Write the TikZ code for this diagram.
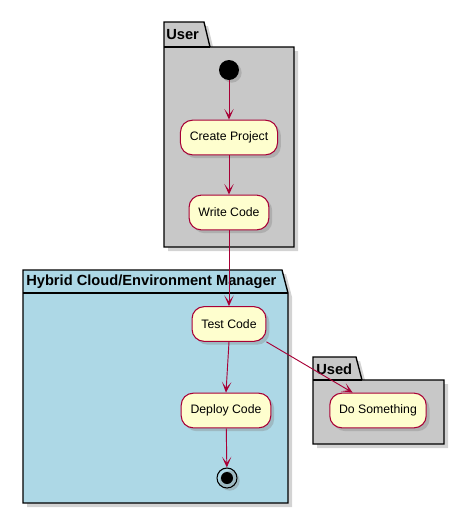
\documentclass[tikz,border=0pt]{standalone}
\usepackage{fontspec}
\setmainfont{Liberation Sans}
\usetikzlibrary{arrows.meta,shadows,positioning}
\definecolor{umlred}{HTML}{A80036}
\definecolor{umlfill}{HTML}{FEFECE}
\definecolor{pkggray}{HTML}{C8C8C8}
\definecolor{pkgblue}{HTML}{ADD8E6}
\tikzset{act/.style={draw=umlred,fill=umlfill,rounded corners=9pt,line width=0.8pt,
    minimum height=26pt,inner xsep=7pt,font=\fontsize{9.2}{11}\selectfont,
    drop shadow={shadow xshift=2.5pt,shadow yshift=-2.5pt,opacity=0.35}},
  pkg/.style={draw=black,line width=1pt,
    drop shadow={shadow xshift=3pt,shadow yshift=-3pt,opacity=0.35}},
  pkgname/.style={anchor=west,inner sep=0pt,font=\fontsize{11}{13}\bfseries},
  arr/.style={-{Stealth[length=8pt,width=7pt,inset=4.5pt]},draw=umlred,line width=0.7pt}}
\begin{document}
\begin{tikzpicture}[x=0.75pt,y=-0.75pt]
\useasboundingbox (0,0) rectangle (465,515);
% packages
\draw[pkg,fill=pkggray] (164,22) -- (204,22) -- (210,47) -- (294,47) -- (294,247) -- (164,247) -- cycle;
\draw[line width=1pt] (164,47) -- (210,47);
\node[pkgname] (user) at (166,35) {User};
\draw[pkg,fill=pkgblue] (23,270) -- (282,270) -- (288,293) -- (288,503) -- (23,503) -- cycle;
\draw[line width=1pt] (23,293) -- (288,293);
\node[pkgname] (hybrid) at (26,282) {Hybrid Cloud/Environment Manager};
\draw[pkg,fill=pkggray] (313,357) -- (356,357) -- (362,380) -- (444,380) -- (444,444) -- (313,444) -- cycle;
\draw[line width=1pt] (313,380) -- (362,380);
\node[pkgname] (used) at (316,369) {Used};
% activities
\node[circle,fill=black,minimum size=15pt,inner sep=0pt,
  drop shadow={shadow xshift=2pt,shadow yshift=-2pt,opacity=0.35}] (start) at (229,70) {};
\node[act] (create) at (229,137.5) {Create Project};
\node[act] (write) at (229,212.5) {Write Code};
\node[act] (test) at (229,324) {Test Code};
\node[act] (deploy) at (226,410.5) {Deploy Code};
\node[act] (dosth) at (378,410.5) {Do Something};
\node[circle,draw=black,line width=0.8pt,minimum size=15pt,inner sep=0pt,
  drop shadow={shadow xshift=2pt,shadow yshift=-2pt,opacity=0.35}] (stop) at (227,478) {};
\node[circle,fill=black,minimum size=9pt,inner sep=0pt] (stopin) at (stop) {};
% flows
\draw[arr] (start) -- (create);
\draw[arr] (create) -- (write);
\draw[arr] (write) -- (test);
\draw[arr] (test.south) -- (deploy.north);
\draw[arr] (test.south east) -- ([xshift=-19pt]dosth.north);
\draw[arr] (deploy) -- (stop);
\end{tikzpicture}
\end{document}
